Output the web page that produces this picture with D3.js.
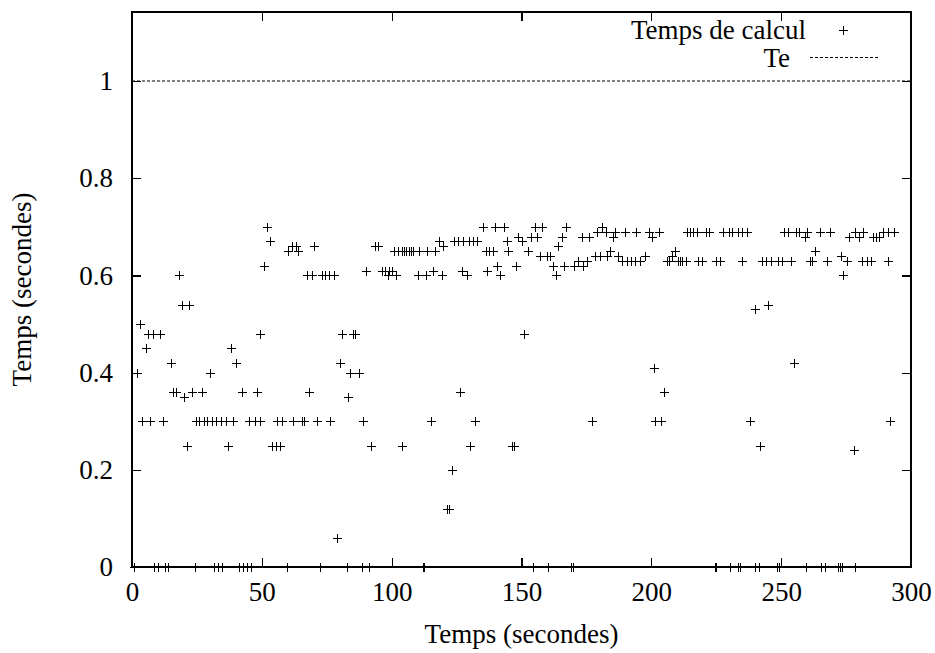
<!DOCTYPE html>
<html>
<head>
<meta charset="utf-8">
<script src="https://cdn.jsdelivr.net/npm/d3@7"></script>
<style>
  html, body { margin: 0; padding: 0; background: #fff; }
  svg { display: block; }
  text { font-family: "Liberation Serif", "Times New Roman", serif; fill: #000; }
</style>
</head>
<body>
<svg id="chart" width="935" height="653"></svg>
<script>
// ---- data ----
const timeSeconds = [
  0.8,1.9,3.0,4.0,5.3,6.0,6.9,8.2,8.4,10.0,10.7,12.1,12.9,13.9,15.0,15.8,16.9,18.1,19.1,20.0,
  21.3,21.9,23.2,24.2,24.6,25.9,26.9,27.7,29.0,30.2,30.7,31.4,32.3,33.0,34.2,34.7,36.2,37.1,38.1,39.0,
  40.2,41.2,42.2,42.7,44.1,45.1,46.0,47.4,48.1,49.2,49.3,51.0,52.1,53.1,53.8,55.3,55.7,57.0,57.6,59.7,
  60.2,61.5,62.1,63.0,64.0,65.3,66.4,67.3,68.2,69.2,70.2,71.1,72.4,73.0,74.3,75.9,76.2,77.8,79.1,80.1,
  81.0,82.7,83.0,83.9,85.0,85.9,87.4,88.6,89.1,90.1,91.3,92.0,93.6,94.8,96.3,97.6,98.4,98.9,100.0,101.0,
  101.8,102.5,103.9,104.1,104.7,105.6,106.5,107.4,108.3,110.2,110.6,111.9,112.5,113.3,113.5,115.1,115.8,116.7,118.3,119.3,
  119.6,121.2,122.1,123.1,124.0,125.6,126.3,126.9,127.6,128.9,129.9,130.2,131.4,132.1,133.0,135.3,136.3,136.8,137.6,138.9,
  139.8,140.7,141.7,143.2,144.3,144.9,146.2,147.2,147.9,148.7,150.2,150.8,152.4,153.6,154.3,155.2,155.8,157.1,157.8,159.7,
  160.1,161.0,162.2,163.2,164.2,165.5,166.5,167.0,168.9,169.7,170.3,171.9,173.2,173.8,175.1,176.0,177.0,178.3,178.9,180.2,
  181.1,182.4,182.8,184.1,185.3,186.0,187.3,188.8,189.8,190.5,192.1,193.9,194.0,195.6,197.5,199.0,200.1,200.9,201.4,202.9,
  203.7,205.0,205.9,206.8,208.1,209.1,210.1,211.0,211.9,213.2,213.6,214.9,216.1,217.4,217.8,219.6,220.9,222.2,224.4,224.8,
  225.0,226.4,227.7,229.9,230.3,231.2,233.2,233.5,234.2,234.8,235.0,236.7,238.0,239.9,240.1,241.4,241.8,242.5,244.0,245.0,
  246.1,248.4,248.9,249.2,250.2,251.0,252.5,253.6,255.0,255.6,256.8,259.1,259.5,259.8,261.1,262.0,263.0,264.9,265.4,266.9,
  267.5,268.8,271.8,272.6,273.0,273.6,273.9,275.2,276.1,278.0,278.4,278.4,279.9,281.2,281.6,282.9,284.6,285.5,286.7,287.6,
  289.3,291.2,291.2,291.9,293.5
];
const computeTime = [
  0,0.40,0.50,0.30,0.45,0.48,0.30,0.48,0,0,0.48,0.30,0,0,0.42,0.36,0.36,0.60,0.54,0.35,
  0.25,0.54,0.36,0,0.30,0.30,0.36,0.30,0.30,0.40,0.30,0,0.30,0,0.30,0,0.30,0.25,0.45,0.30,
  0.42,0,0.36,0,0,0.30,0,0.30,0.36,0.48,0.30,0.62,0.70,0.67,0.25,0.25,0.30,0.25,0.30,0,
  0.65,0.66,0.30,0.66,0.65,0.30,0.30,0.60,0.36,0.60,0.66,0.30,0,0.60,0.60,0.60,0.30,0.60,0.06,0.42,
  0.48,0,0.35,0.40,0.48,0.48,0.40,0,0.30,0.61,0,0.25,0.66,0.66,0.61,0.61,0.60,0.61,0.61,0.65,
  0.60,0.65,0.65,0.25,0.65,0.65,0.65,0.65,0.65,0.60,0.65,0,0,0.60,0.65,0.30,0.61,0.65,0.67,0.60,
  0.66,0.12,0.12,0.20,0.67,0.67,0.36,0.61,0.67,0.60,0.67,0.25,0.67,0.30,0.67,0.70,0.65,0.61,0.65,0.65,
  0.70,0.62,0.60,0.70,0.67,0.65,0.25,0.25,0.62,0.68,0.67,0.48,0.65,0.68,0,0.70,0.68,0.64,0.70,0.64,
  0,0.64,0.62,0.60,0.66,0.68,0.62,0.70,0,0,0.62,0.63,0.68,0.62,0.63,0.68,0.30,0.64,0.69,0.64,
  0.70,0.69,0.64,0.65,0.68,0.69,0.64,0.63,0.69,0.63,0.63,0.63,0.69,0.63,0.64,0.69,0.68,0.41,0.30,0.69,
  0.30,0.36,0.63,0.63,0.64,0.65,0.63,0.63,0.63,0.63,0.69,0.69,0.69,0.69,0.63,0.63,0.69,0.69,0,0.63,
  0,0.63,0.69,0.69,0,0.69,0,0.69,0,0.69,0.63,0.69,0.30,0.53,0,0,0.25,0.63,0.63,0.54,
  0.63,0,0.63,0,0.63,0.69,0.69,0.63,0.42,0.69,0.69,0.68,0,0.69,0.63,0.63,0.65,0.69,0,0,
  0.63,0.69,0,0,0.64,0,0.60,0.63,0.68,0.24,0.69,0,0.68,0.63,0.69,0.63,0.63,0.68,0.68,0.68,
  0.69,0.69,0.63,0.30,0.69
];
const teValue = 1;
const seriesNames = ["Temps de calcul", "Te"];
const xTicks = [0, 50, 100, 150, 200, 250, 300];
const yTicks = [0, 0.2, 0.4, 0.6, 0.8, 1];
const xLabel = "Temps (secondes)";
const yLabel = "Temps (secondes)";
const xDomain = [0, 300];
const yDomain = [0, 1.142];

// ---- drawing ----
const svg = d3.select("#chart");
const L = 132, R = 911, T = 12, B = 567;
const x = d3.scaleLinear().domain(xDomain).range([L, R]);
const y = d3.scaleLinear().domain(yDomain).range([B, T]);
const tickLen = 9;
const fs = 27;

// axes with inward ticks (gnuplot style), mirrored
const gB = svg.append("g").attr("transform", `translate(0,${B})`)
  .call(d3.axisBottom(x).tickValues(xTicks).tickSizeInner(-tickLen).tickSizeOuter(0).tickPadding(15).tickFormat(d3.format("d")));
const gT = svg.append("g").attr("transform", `translate(0,${T})`)
  .call(d3.axisTop(x).tickValues(xTicks).tickSizeInner(-tickLen).tickSizeOuter(0).tickFormat(""));
const gL = svg.append("g").attr("transform", `translate(${L},0)`)
  .call(d3.axisLeft(y).tickValues(yTicks).tickSizeInner(-tickLen).tickSizeOuter(0).tickPadding(19).tickFormat(d => d3.format("")(d)));
const gR = svg.append("g").attr("transform", `translate(${R},0)`)
  .call(d3.axisRight(y).tickValues(yTicks).tickSizeInner(-tickLen).tickSizeOuter(0).tickFormat(""));

[gB, gT, gL, gR].forEach(g => {
  g.select(".domain").remove();
  g.selectAll(".tick line").attr("stroke", "#000").attr("stroke-width", 1.2).attr("shape-rendering", "crispEdges");
  g.selectAll("text").attr("font-size", fs).attr("font-family", "'Liberation Serif', serif").attr("fill", "#000");
});
gB.selectAll(".tick text").attr("dy", "0.71em");

// frame
svg.append("rect").attr("x", L).attr("y", T).attr("width", R - L).attr("height", B - T)
  .attr("fill", "none").attr("stroke", "#000").attr("stroke-width", 1.5).attr("shape-rendering", "crispEdges");

// Te dashed line
svg.append("line").attr("x1", x(xDomain[0])).attr("x2", x(xDomain[1]))
  .attr("y1", y(teValue)).attr("y2", y(teValue))
  .attr("stroke", "#000").attr("stroke-width", 1).attr("stroke-dasharray", "3,2");

// points as "+"
const pts = timeSeconds.map((t, i) => [t, computeTime[i]]);
const h = 4.5;
svg.append("g").selectAll("path").data(pts).join("path")
  .attr("d", d => {
    const px = Math.round(x(d[0])) + 0.5, py = Math.round(y(d[1])) + 0.5;
    return `M${px - h},${py}H${px + h}M${px},${py - h}V${py + h}`;
  })
  .attr("stroke", "#000").attr("stroke-width", 1).attr("fill", "none");

// axis labels
svg.append("text").attr("x", (L + R) / 2).attr("y", 643).attr("text-anchor", "middle")
  .attr("font-size", fs).text(xLabel);
svg.append("text").attr("transform", `translate(31,${(T + B) / 2}) rotate(-90)`)
  .attr("text-anchor", "middle").attr("font-size", fs).text(yLabel);

// legend
const lg = svg.append("g");
lg.append("text").attr("x", 806).attr("y", 39).attr("text-anchor", "end").attr("font-size", fs).text(seriesNames[0]);
lg.append("path").attr("d", `M${843.5 - h},30.5H${843.5 + h}M843.5,${30.5 - h}V${30.5 + h}`).attr("stroke", "#000").attr("fill", "none");
lg.append("text").attr("x", 790).attr("y", 67).attr("text-anchor", "end").attr("font-size", fs).text(seriesNames[1]);
lg.append("line").attr("x1", 810).attr("x2", 878).attr("y1", 57.5).attr("y2", 57.5)
  .attr("stroke", "#000").attr("stroke-width", 1).attr("stroke-dasharray", "3,2");
</script>
</body>
</html>
